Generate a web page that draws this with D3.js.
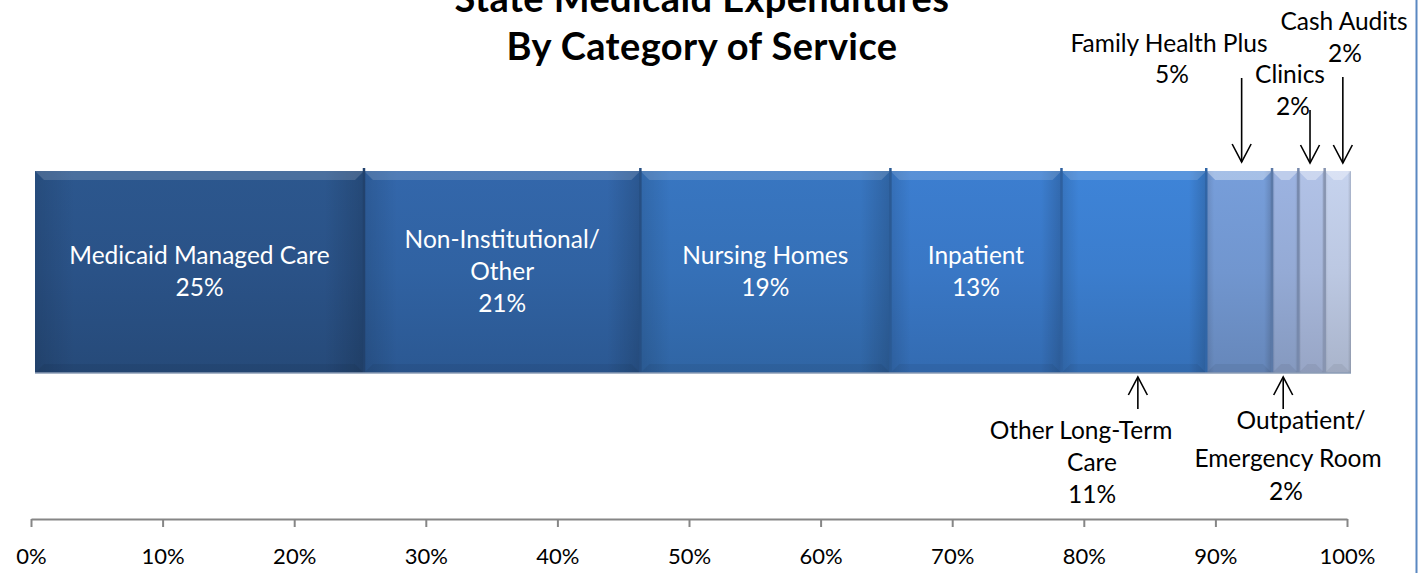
<!DOCTYPE html>
<html>
<head>
<meta charset="utf-8">
<script src="https://cdn.jsdelivr.net/npm/d3@7"></script>
<style>
  html, body { margin: 0; padding: 0; background: #ffffff; }
  svg { display: block; font-family: Lato, "Open Sans", sans-serif; }
</style>
</head>
<body>
<svg id="chart" width="1424" height="573"></svg>
<script>
// ---- data ----
const categories = [
  "Medicaid Managed Care", "Non-Institutional/Other", "Nursing Homes", "Inpatient",
  "Other Long-Term Care", "Family Health Plus", "Outpatient/Emergency Room", "Clinics", "Cash Audits"
];
const shares = [25, 21, 19, 13, 11, 5, 2, 2, 2];
const labelLines = [
  ["Medicaid Managed Care"], ["Non-Institutional/", "Other"], ["Nursing Homes"], ["Inpatient"],
  ["Other Long-Term", "Care"], ["Family Health Plus"], ["Outpatient/", "Emergency Room"],
  ["Clinics"], ["Cash Audits"]
];
const axisTicks = [0, 10, 20, 30, 40, 50, 60, 70, 80, 90, 100];
const titleLines = ["State Medicaid Expenditures", "By Category of Service"];

// ---- styling ----
const palette = ["#2a5287", "#3062a2", "#3570b7", "#3977c5", "#3b7dcd",
                 "#7196cf", "#94aad5", "#a8b8db", "#bcc8e2"];
const labelSize = 24.5;

const svg = d3.select("#chart");
const x = d3.scaleLinear().domain([0, 100]).range([31, 1347]);
const barShift = 4, barTop = 171, barBottom = 373, bev = 9;
const pct = v => `${v}%`;

// stacked layout of the single bar
const row = {}; categories.forEach((c, i) => row[c] = shares[i]);
const series = d3.stack().keys(categories)([row]);
const segs = series.map((s, i) => ({
  i, name: categories[i], value: shares[i],
  px0: x(s[0][0]) + barShift, px1: x(s[0][1]) + barShift
}));

// gradients: vertical body shading and soft edge shading
const defs = svg.append("defs");
segs.forEach(d => {
  const c = d3.color(palette[d.i]);
  const g = defs.append("linearGradient").attr("id", `seg-${d.i}`)
    .attr("x1", 0).attr("y1", 0).attr("x2", 0).attr("y2", 1);
  g.append("stop").attr("offset", 0).attr("stop-color", c.brighter(0.15));
  g.append("stop").attr("offset", 0.5).attr("stop-color", c);
  g.append("stop").attr("offset", 1).attr("stop-color", c.darker(0.3));
});
const edge = defs.append("linearGradient").attr("id", "edge-shade")
  .attr("x1", 0).attr("y1", 0).attr("x2", 1).attr("y2", 0);
edge.append("stop").attr("offset", 0).attr("stop-color", "#000").attr("stop-opacity", 0.12);
edge.append("stop").attr("offset", 0.12).attr("stop-color", "#000").attr("stop-opacity", 0);
edge.append("stop").attr("offset", 0.88).attr("stop-color", "#000").attr("stop-opacity", 0);
edge.append("stop").attr("offset", 1).attr("stop-color", "#000").attr("stop-opacity", 0.16);

// ---- bar segments ----
const bar = svg.append("g");
const seg = bar.selectAll("g.seg").data(segs).join("g").attr("class", "seg");
seg.append("rect")
  .attr("x", d => d.px0).attr("y", barTop)
  .attr("width", d => d.px1 - d.px0).attr("height", barBottom - barTop)
  .attr("fill", d => `url(#seg-${d.i})`);
seg.append("rect")
  .attr("x", d => d.px0).attr("y", barTop)
  .attr("width", d => d.px1 - d.px0).attr("height", barBottom - barTop)
  .attr("fill", "url(#edge-shade)");
// top bevel
seg.append("polygon")
  .attr("points", d => [[d.px0, barTop], [d.px1, barTop], [d.px1 - bev, barTop + bev], [d.px0 + bev, barTop + bev]].join(" "))
  .attr("fill", "#ffffff").attr("fill-opacity", d => d.i >= 5 ? 0.35 : 0.15);
// bottom bevel
seg.append("polygon")
  .attr("points", d => [[d.px0, barBottom], [d.px1, barBottom], [d.px1 - bev, barBottom - bev], [d.px0 + bev, barBottom - bev]].join(" "))
  .attr("fill", "#000").attr("fill-opacity", 0.06);
// separators between segments
bar.selectAll("line.sep").data(segs.slice(0, -1)).join("line").attr("class", "sep")
  .attr("x1", d => d.px1).attr("x2", d => d.px1)
  .attr("y1", barTop - 3).attr("y2", barBottom)
  .attr("stroke", d => d3.color(palette[d.i]).darker(0.6)).attr("stroke-width", 2.5);
// bottom edge
bar.append("line")
  .attr("x1", segs[0].px0).attr("x2", segs[segs.length - 1].px1)
  .attr("y1", barBottom).attr("y2", barBottom)
  .attr("stroke", "#8b9cb6").attr("stroke-width", 1.5);

// ---- labels inside the large segments ----
const lineGap = 32, midY = (barTop + barBottom) / 2;
segs.slice(0, 4).forEach(d => {
  const lines = labelLines[d.i].concat(pct(d.value));
  const t = svg.append("text").attr("fill", "#ffffff").attr("font-size", labelSize)
    .attr("text-anchor", "middle");
  lines.forEach((s, k) => {
    t.append("tspan").attr("x", (d.px0 + d.px1) / 2)
      .attr("y", midY + (k - (lines.length - 1) / 2) * lineGap + 8).text(s);
  });
});

// ---- callouts with arrows for the small segments ----
const callouts = [
  { i: 4, dx: 4,    lx: [1081, 1092, 1092], ly: [439, 471, 503], from: 409, to: 377 },
  { i: 6, dx: -2,   lx: [1301, 1288, 1286], ly: [429, 467, 500], from: 409, to: 377 },
  { i: 5, dx: 2.5,  lx: [1169, 1172],       ly: [52, 83],        from: 78,  to: 162 },
  { i: 7, dx: -1.5, lx: [1290, 1293],       ly: [83, 115],       from: 110, to: 163 },
  { i: 8, dx: 5,    lx: [1344, 1345],       ly: [30, 62],        from: 77,  to: 163 }
];
const ann = svg.append("g");
callouts.forEach(c => {
  const d = segs[c.i];
  const ax = (d.px0 + d.px1) / 2 + c.dx;
  const lines = labelLines[c.i].concat(pct(d.value));
  const t = ann.append("text").attr("fill", "#000").attr("font-size", labelSize)
    .attr("text-anchor", "middle");
  lines.forEach((s, k) => t.append("tspan").attr("x", c.lx[k]).attr("y", c.ly[k]).text(s));
  const dir = Math.sign(c.to - c.from);
  ann.append("line").attr("x1", ax).attr("x2", ax).attr("y1", c.from).attr("y2", c.to)
    .attr("stroke", "#000").attr("stroke-width", 1.6);
  ann.append("polyline")
    .attr("points", [[ax - 9.5, c.to - dir * 18], [ax, c.to], [ax + 9.5, c.to - dir * 18]].join(" "))
    .attr("fill", "none").attr("stroke", "#000").attr("stroke-width", 1.6);
});

// ---- title (first line runs off the top edge of the chart area) ----
const title = svg.append("text").attr("text-anchor", "middle")
  .attr("font-weight", 700).attr("font-size", 38).attr("letter-spacing", 0.4).attr("fill", "#000");
titleLines.forEach((s, k) => title.append("tspan").attr("x", 702).attr("y", 12 + k * 48).text(s));

// ---- axis ----
const axis = d3.axisBottom(x).tickValues(axisTicks).tickFormat(pct)
  .tickSizeInner(8).tickSizeOuter(0);
const gAxis = svg.append("g").attr("transform", "translate(0,519)").call(axis);
gAxis.select(".domain").attr("stroke", "#868686").attr("stroke-width", 2);
gAxis.selectAll(".tick line").attr("stroke", "#868686").attr("stroke-width", 2);
gAxis.selectAll(".tick text").attr("y", 45).attr("dy", null)
  .attr("font-family", "Lato, 'Open Sans', sans-serif").attr("font-size", 22).attr("fill", "#000");

// ---- frame edge on the right ----
svg.append("line").attr("x1", 1416.5).attr("x2", 1416.5).attr("y1", 0).attr("y2", 573)
  .attr("stroke", "#5a88c2").attr("stroke-width", 2);
</script>
</body>
</html>
